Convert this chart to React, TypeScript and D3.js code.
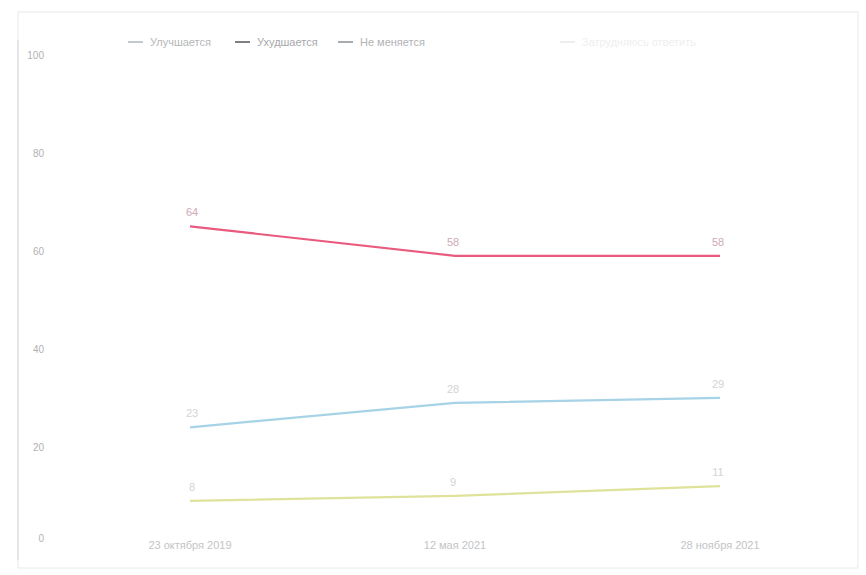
import * as d3 from "d3";

const dates = ["23 октября 2019", "12 мая 2021", "28 ноября 2021"];
const worse = [64, 58, 58];
const better = [23, 28, 29];
const same = [8, 9, 11];
const yTicks = [0, 20, 40, 60, 80, 100];

const legendNames = ["Улучшается", "Ухудшается", "Не меняется", "Затрудняюсь ответить"];
const legendColors = ["#c4c9cf", "#7d8085", "#a9acae", "#eceef0"];
const legendTextColors = ["#b4b6b8", "#a6a8aa", "#b0b2b4", "#eeeff0"];
const legendX = [128, 235, 338, 560];

const series = [
  { name: "worse", values: worse, color: "#ea5a7f" },
  { name: "better", values: better, color: "#a6d3e6" },
  { name: "same", values: same, color: "#dfe29a" },
];

export default function App() {
  const width = 866;
  const height = 575;

  const x = d3.scalePoint<string>().domain(dates).range([190, 720]);
  const y = d3.scaleLinear().domain([0, 100]).range([540, 50]);

  const line = d3
    .line<number>()
    .x((_d, i) => x(dates[i]) as number)
    .y((d) => y(d));

  return (
    <svg
      width={width}
      height={height}
      style={{ position: "absolute", left: 0, top: 0, background: "#fff" }}
      fontFamily="'Liberation Sans', Arial, sans-serif"
    >
      <rect x={18} y={12} width={840} height={556} fill="none" stroke="#e8e9ea" strokeWidth={1} />
      <line x1={18} x2={18} y1={40} y2={560} stroke="#d8dadc" strokeWidth={1.2} />

      {yTicks.map((t) => (
        <text
          key={t}
          x={44}
          y={t === 0 ? y(t) - 2 : y(t) + 5}
          dy="0.35em"
          textAnchor="end"
          fontSize={10}
          fill="#b0b2b4"
        >
          {t}
        </text>
      ))}

      {dates.map((d) => (
        <text key={d} x={x(d)} y={545} dy="0.35em" textAnchor="middle" fontSize={11} fill="#c2c4c6">
          {d}
        </text>
      ))}

      {series.map((s) => (
        <g key={s.name}>
          <path d={String(line(s.values))} fill="none" stroke={s.color} strokeWidth={2.2} />
          {s.values.map((v, i) => (
            <text
              key={i}
              x={(x(dates[i]) as number) + (i === 0 ? 2 : -2)}
              y={y(v) - 10}
              textAnchor="middle"
              fontSize={11}
              fill={s.name === "worse" ? "#cfa9b5" : "#d2d4d6"}
            >
              {v}
            </text>
          ))}
        </g>
      ))}

      {legendNames.map((n, i) => (
        <g key={n} transform={`translate(${legendX[i]},42)`}>
          <line x1={0} x2={15} y1={0} y2={0} stroke={legendColors[i]} strokeWidth={2} />
          <text x={22} y={0} dy="0.35em" fontSize={11} fill={legendTextColors[i]}>
            {n}
          </text>
        </g>
      ))}
    </svg>
  );
}
